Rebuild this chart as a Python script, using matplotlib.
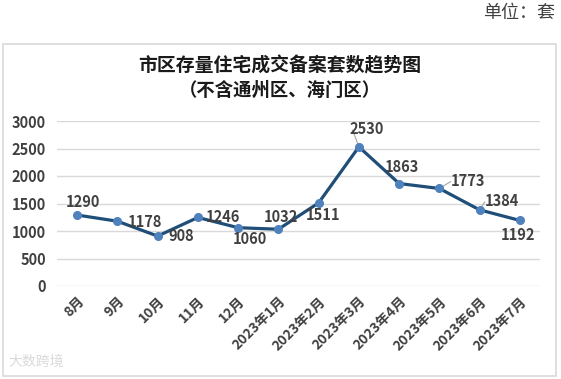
import matplotlib.pyplot as plt
from matplotlib.patches import Rectangle

plt.rcParams['font.family'] = ['Noto Sans CJK SC', 'DejaVu Sans']

# 数据
months = ['8月', '9月', '10月', '11月', '12月', '2023年1月', '2023年2月',
          '2023年3月', '2023年4月', '2023年5月', '2023年6月', '2023年7月']
counts = [1290, 1178, 908, 1246, 1060, 1032, 1511, 2530, 1863, 1773, 1384, 1192]
y_ticks = [0, 500, 1000, 1500, 2000, 2500, 3000]

# 标签偏移 (像素, 向下为正)
offsets = [(6, -13), (28, 1), (24, 0), (25, 0), (12, 11), (3, -12),
           (4, 12), (8, -18), (3, -17), (29, -7), (22, -9), (-2, 15)]
leaders = {7, 9, 10}

W, H = 561, 379
fig = plt.figure(figsize=(W / 100, H / 100), dpi=100)

# 外框
fig.patches.append(Rectangle((3 / W, 1 - 376 / H), 553 / W, 332 / H,
                             transform=fig.transFigure, fill=False,
                             edgecolor='#D9D9D9', linewidth=1.2))

fig.text(555 / W, 1 - 13 / H, '单位：套', ha='right', va='center',
         fontsize=13, color='#404040')
cx = 0.5 * (3 + 556) / W
fig.text(cx, 1 - 66 / H, '市区存量住宅成交备案套数趋势图',
         ha='center', va='center', fontsize=13.6, fontweight='bold', color='#1a1a1a')
fig.text(cx, 1 - 90 / H, '（不含通州区、海门区）',
         ha='center', va='center', fontsize=13.2, fontweight='bold', color='#1a1a1a')

ax = fig.add_axes([57 / W, 1 - 286 / H, (540 - 57) / W, (286 - 121) / H])
x = list(range(len(months)))
ax.plot(x, counts, color='#1F4E79', linewidth=2.3, zorder=3)
ax.plot(x, counts, 'o', color='#4F81BD', markersize=5.5, zorder=4)

ax.set_xlim(-0.5, len(months) - 0.5)
ax.set_ylim(0, 3000)
ax.set_yticks(y_ticks)
ax.set_yticklabels([str(v) for v in y_ticks], fontsize=10.5, fontweight='bold',
                   color='#404040')
ax.set_xticks(x)
ax.set_xticklabels(months, rotation=45, ha='right', rotation_mode='anchor',
                   fontsize=10, fontweight='bold', color='#404040')
ax.tick_params(length=0, axis='y', pad=8)
ax.tick_params(length=0, axis='x', pad=6)
ax.grid(axis='y', color='#D9D9D9', linewidth=1)
ax.set_axisbelow(True)
for s in ax.spines.values():
    s.set_visible(False)

for i, (v, (dx, dy)) in enumerate(zip(counts, offsets)):
    ax.annotate(str(v), (i, v), xytext=(dx * 0.72, -dy * 0.72),
                textcoords='offset points', ha='center', va='center',
                fontsize=10.5, fontweight='bold', color='#404040', zorder=5)
    if i in leaders:
        ax.annotate('', (i, v), xytext=(dx * 0.72 - 11, -dy * 0.72 + 1),
                    textcoords='offset points',
                    arrowprops=dict(arrowstyle='-', color='#A6A6A6', lw=0.8))

fig.text(8 / W, 1 - 362 / H, '大数跨境', ha='left', va='center',
         fontsize=10, color='#DADADA')

fig.savefig('out.png', dpi=100)
